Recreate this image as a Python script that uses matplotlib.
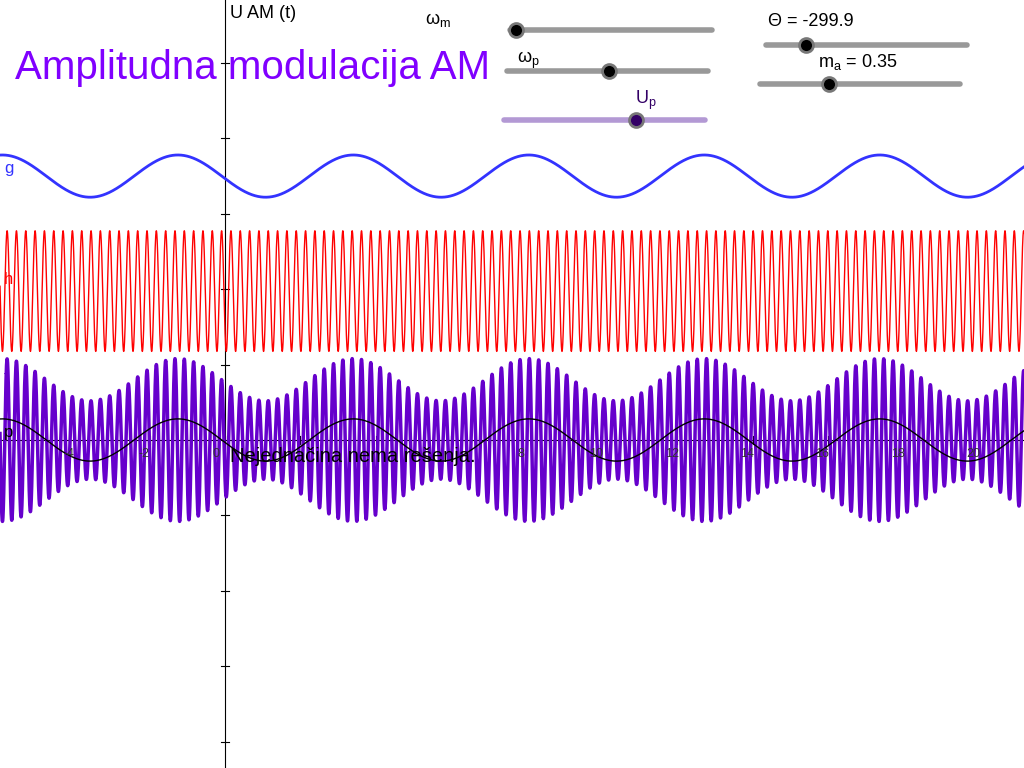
import numpy as np
import matplotlib
matplotlib.use("Agg")
import matplotlib.pyplot as plt

plt.rcParams["font.family"] = ["Liberation Sans", "DejaVu Sans"]
plt.rcParams["mathtext.fontset"] = "custom"
plt.rcParams["mathtext.rm"] = "Liberation Sans"

# parameters
omega_m = 1.35
omega_p = 25.4
U_p = 1.6
m_a = 0.35
theta_shift = 1.25
carrier_shift = 0.09
g_offset, g_amp = 7.0, 0.56
h_offset = 3.95
xticks = [-4, -2, 0, 2, 4, 6, 8, 10, 12, 14, 16, 18, 20]
xtick_labels = ["-4", "-2", "0", "", "", "", "8", "10", "12", "14", "16", "18", "20"]
yticks = [-8, -6, -4, -2, 2, 4, 6, 8, 10]

fig = plt.figure(figsize=(10.24, 7.68), dpi=100)
ax = fig.add_axes([0, 0, 1, 1])
W, H = 1024, 768
ppu = 37.7
x0, y0 = 225, 440
ax.set_xlim(-x0 / ppu, (W - x0) / ppu)
ax.set_ylim(-(H - y0) / ppu, y0 / ppu)
ax.axis("off")

t = np.linspace(-x0 / ppu, (W - x0) / ppu, 20000)
mod = np.cos(omega_m * (t + theta_shift))
g = g_offset + g_amp * mod
h = h_offset + U_p * np.cos(omega_p * (t + carrier_shift))
f = U_p * (1 + m_a * mod) * np.cos(omega_p * (t + carrier_shift))
p = g_amp * mod

ax.axhline(0, color="black", lw=0.8)
ax.axvline(0, color="black", lw=0.8)
for xt, lab in zip(xticks, xtick_labels):
    ax.plot([xt, xt], [-0.1, 0.1], color="black", lw=0.8)
    if lab:
        ax.text(xt - 0.15, -0.2, lab, ha="right" if xt == 0 else "center", va="top",
                fontsize=9, color="#333333")
for yt in yticks:
    ax.plot([-0.1, 0.1], [yt, yt], color="black", lw=0.8)

ax.plot(t, g, color="#3333ff", lw=2)
ax.plot(t, h, color="#ff0000", lw=1)
ax.plot(t, f, color="#6600cc", lw=2.5)
ax.plot(t, p, color="black", lw=1)

def fx(px): return px / W
def fy(py): return 1 - py / H

fig.text(fx(230), fy(14), "U AM (t)", fontsize=13, va="center")
fig.text(fx(15), fy(68), "Amplitudna modulacija AM", fontsize=29, color="#8000ff", va="center")
fig.text(fx(4), fy(168), "g", fontsize=12, color="#3333ff", va="center")
fig.text(fx(4), fy(280), "h", fontsize=12, color="#ff0000", va="center")
fig.text(fx(4), fy(378), "f", fontsize=12, color="#6600cc", va="center")
fig.text(fx(4), fy(432), "p", fontsize=12, color="black", va="center")
fig.text(fx(230), fy(457), "Nejednačina nema rešenja.", fontsize=14.5, va="center")

def slider(xa, xb, y, knob, color="#999999", kc="black"):
    fig.add_artist(plt.Line2D([fx(xa), fx(xb)], [fy(y), fy(y)], color=color, lw=4,
                              solid_capstyle="round"))
    fig.add_artist(plt.Line2D([fx(knob)], [fy(y)], marker="o", ms=10, color=kc,
                              markeredgecolor="#777777", markeredgewidth=2))

slider(510, 712, 30, 516)
slider(507, 708, 71, 609)
slider(504, 705, 120, 636, color="#b399d4", kc="#330066")
slider(766, 967, 45, 806)
slider(760, 960, 84, 829)
fig.text(fx(425), fy(20), r"$\mathregular{\omega_m}$", fontsize=13, va="center")
fig.text(fx(517), fy(60), r"$\mathregular{\omega_p}$", fontsize=13, va="center")
fig.text(fx(635), fy(100), r"$\mathregular{U_p}$", fontsize=13, color="#330066", va="center")
fig.text(fx(768), fy(22), "Θ = -299.9", fontsize=13, va="center")
fig.text(fx(818), fy(62), r"$\mathregular{m_a}$ = 0.35", fontsize=13, va="center")

fig.savefig("out.png", dpi=100)
